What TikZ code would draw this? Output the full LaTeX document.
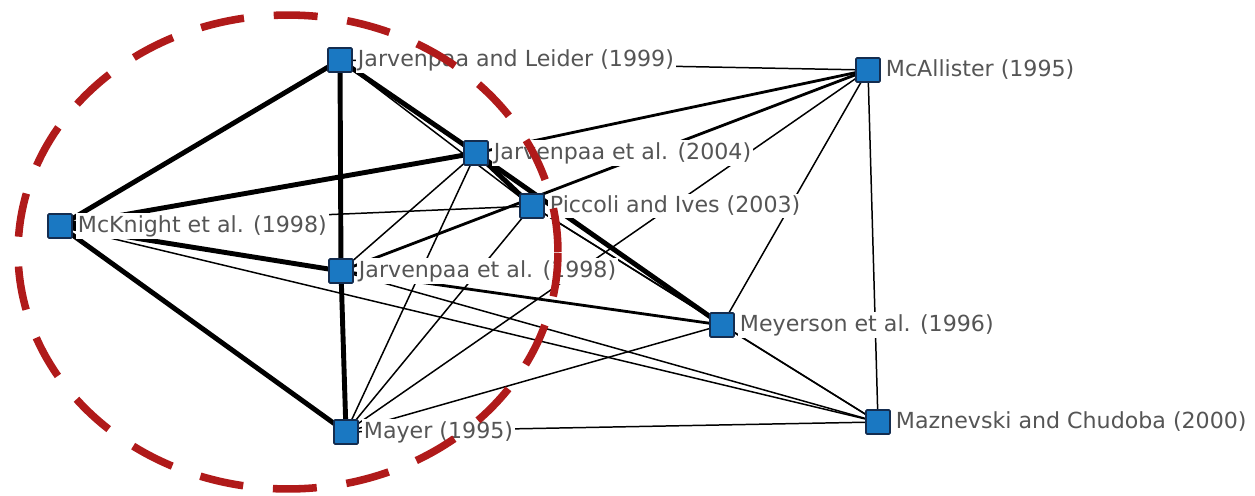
\documentclass[tikz,border=0pt]{standalone}
\usepackage{fontspec}
\setmainfont{DejaVu Sans}
\begin{document}
\begin{tikzpicture}[x=0.02cm,y=-0.02cm,
  placept/.style={minimum size=0.5cm,inner sep=0pt},
  mk/.style={draw={rgb,255:red,20;green,45;blue,80},fill={rgb,255:red,26;green,120;blue,194},line width=1pt,minimum size=0.48cm,inner sep=0pt,rounded corners=0.6pt},
  lbl/.style={anchor=west,fill=white,inner sep=1.2pt,text={rgb,255:red,85;green,85;blue,85},font=\fontsize{12.6}{14}\selectfont},
  thinedge/.style={line width=0.85pt,black},
  mededge/.style={line width=1.6pt,black},
  thkedge/.style={line width=2.8pt,black},
  ring/.style={draw={rgb,255:red,176;green,26;blue,26},line width=4.3pt,dash pattern=on 25pt off 17pt}]
\useasboundingbox (0,0) rectangle (1255,495);
% positions
\node[placept] (JL) at (340,60) {};
\node[placept] (McA) at (868,70) {};
\node[placept] (J04) at (476,153) {};
\node[placept] (PI) at (532,206) {};
\node[placept] (McK) at (60,226) {};
\node[placept] (J98) at (341,271) {};
\node[placept] (Mey) at (722,325) {};
\node[placept] (May) at (346,432) {};
\node[placept] (Maz) at (878,422) {};
% edges
\draw[thinedge] (JL.center) -- (McA.center);
\draw[thinedge] (JL.center) -- (PI.center);
\draw[thinedge] (McK.center) -- (PI.center);
\draw[thinedge] (McK.center) -- (Maz.center);
\draw[thinedge] (J04.center) -- (J98.center);
\draw[thinedge] (J04.center) -- (May.center);
\draw[thinedge] (PI.center) -- (May.center);
\draw[thinedge] (PI.center) -- (Mey.center);
\draw[thinedge] (PI.center) -- (Maz.center);
\draw[thinedge] (May.center) -- (McA.center);
\draw[thinedge] (May.center) -- (Mey.center);
\draw[thinedge] (May.center) -- (Maz.center);
\draw[thinedge] (McA.center) -- (Mey.center);
\draw[thinedge] (McA.center) -- (Maz.center);
\draw[thinedge] (Mey.center) -- (Maz.center);
\draw[thinedge] (J98.center) -- (Maz.center);
\draw[mededge] (J04.center) -- (McA.center);
\draw[mededge] (J98.center) -- (McA.center);
\draw[mededge] (J98.center) -- (Mey.center);
\draw[thkedge] (JL.center) -- (McK.center);
\draw[thkedge] (JL.center) -- (J98.center);
\draw[thkedge] (J98.center) -- (May.center);
\draw[thkedge] (JL.center) -- (J04.center);
\draw[thkedge] (J04.center) -- (PI.center);
\draw[thkedge] (J04.center) -- (McK.center);
\draw[thkedge] (McK.center) -- (J98.center);
\draw[thkedge] (McK.center) -- (May.center);
\draw[thkedge] (J04.center) -- (Mey.center);
% labels
\node[lbl] (tJL) at ([xshift=1.5pt]JL.east) {Jarvenpaa and Leider (1999)};
\node[lbl] (tMcA) at ([xshift=1.5pt]McA.east) {McAllister (1995)};
\node[lbl] (tJ04) at ([xshift=1.5pt]J04.east) {Jarvenpaa et al. (2004)};
\node[lbl] (tPI) at ([xshift=1.5pt]PI.east) {Piccoli and Ives (2003)};
\node[lbl] (tMcK) at ([xshift=1.5pt]McK.east) {McKnight et al. (1998)};
\node[lbl] (tJ98) at ([xshift=1.5pt]J98.east) {Jarvenpaa et al. (1998)};
\node[lbl] (tMey) at ([xshift=1.5pt]Mey.east) {Meyerson et al. (1996)};
\node[lbl] (tMay) at ([xshift=1.5pt]May.east) {Mayer (1995)};
\node[lbl] (tMaz) at ([xshift=1.5pt]Maz.east) {Maznevski and Chudoba (2000)};
% visible markers
\foreach \n in {JL,McA,J04,PI,McK,J98,Mey,May,Maz}
  \node[mk] (m\n) at (\n.center) {};
% highlight ring
\draw[ring] (288,252) ellipse [x radius=5.4cm, y radius=4.74cm];
\end{tikzpicture}
\end{document}
